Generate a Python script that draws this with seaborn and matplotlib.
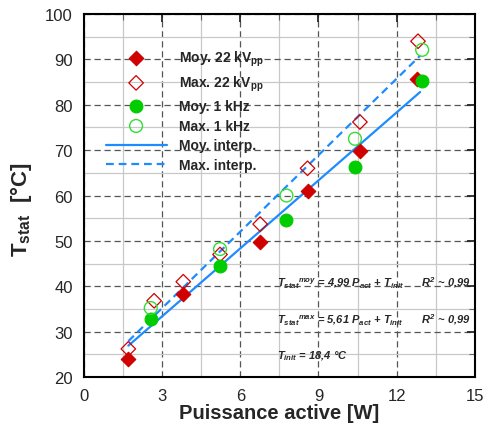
import matplotlib
matplotlib.use("Agg")
import matplotlib.pyplot as plt
import seaborn as sns
from matplotlib.ticker import MultipleLocator

# data
p_moy_22 = [1.70, 3.81, 6.76, 8.58, 10.59, 12.78]
t_moy_22 = [24.0, 38.4, 49.8, 60.9, 69.8, 85.7]
p_max_22 = [1.70, 2.69, 3.81, 5.22, 6.76, 8.58, 10.59, 12.82]
t_max_22 = [26.2, 36.8, 41.0, 47.0, 53.7, 66.0, 76.2, 94.0]
p_1k = [2.56, 5.22, 7.77, 10.40, 12.98]
t_moy_1k = [32.7, 44.4, 54.5, 66.2, 85.3]
t_max_1k = [35.2, 48.2, 60.0, 72.5, 92.1]
p_interp = [1.70, 12.90]
t_moy_interp = [26.9, 82.8]
t_max_interp = [27.9, 90.8]

red = "#d00000"
green = "#00cc00"
blue = "#1e8cff"

sns.set_style("white")
plt.rcParams["font.family"] = ["Liberation Sans", "DejaVu Sans"]
plt.rcParams["mathtext.fontset"] = "custom"
plt.rcParams["mathtext.rm"] = "Liberation Sans:bold:italic"
plt.rcParams["mathtext.it"] = "Liberation Sans:bold:italic"
plt.rcParams["mathtext.bf"] = "Liberation Sans:bold"

fig = plt.figure(figsize=(4.83, 4.35), dpi=100)
ax = fig.add_axes([0.174, 0.131, 0.809, 0.8345])

# interpolation lines
sns.lineplot(x=p_interp, y=t_moy_interp, color=blue, lw=1.6, ax=ax,
             label="Moy. interp.", zorder=2)
sns.lineplot(x=p_interp, y=t_max_interp, color=blue, lw=1.6, ax=ax,
             label="Max. interp.", zorder=2, linestyle=(0, (3.5, 2.2)))

# measurements
sns.scatterplot(x=p_moy_22, y=t_moy_22, marker="D", s=55, color=red,
                edgecolor=red, linewidth=0.8, ax=ax, label="Moy. 22 kV$_{\\mathbf{pp}}$", zorder=3)
sns.scatterplot(x=p_max_22, y=t_max_22, marker="D", s=55, color=red,
                facecolor="none", edgecolor=red, linewidth=0.9, ax=ax,
                label="Max. 22 kV$_{\\mathbf{pp}}$", zorder=3)
sns.scatterplot(x=p_1k, y=t_moy_1k, marker="o", s=85, color=green,
                edgecolor=green, linewidth=0.8, ax=ax, label="Moy. 1 kHz", zorder=4)
sns.scatterplot(x=p_1k, y=t_max_1k, marker="o", s=85, color=green,
                facecolor="none", edgecolor="#33dd33", linewidth=1.0, ax=ax,
                label="Max. 1 kHz", zorder=4)

handles, labels = ax.get_legend_handles_labels()
order = [2, 3, 4, 5, 0, 1]
leg = ax.legend([handles[i] for i in order], [labels[i] for i in order],
                loc="upper left", bbox_to_anchor=(0.055, 0.905), frameon=False,
                borderpad=0, borderaxespad=0, handlelength=4.4, handletextpad=0.9,
                labelspacing=0.42, prop={"weight": "bold", "size": 10})

ax.set_xlim(0, 15)
ax.set_ylim(20, 100)
ax.xaxis.set_major_locator(MultipleLocator(3))
ax.xaxis.set_minor_locator(MultipleLocator(1.5))
ax.yaxis.set_major_locator(MultipleLocator(10))
ax.yaxis.set_minor_locator(MultipleLocator(5))
ax.tick_params(which="both", direction="in", top=True, right=True, labelsize=12)
ax.tick_params(which="major", length=6, width=1.3, pad=8)
ax.tick_params(which="minor", length=4, width=0.8, color="#666666")

ax.grid(which="major", color="#555555", linestyle=(0, (5, 3)), linewidth=0.9)
ax.grid(which="minor", color="#c8c8c8", linestyle="-", linewidth=0.9)
ax.set_axisbelow(True)
for s in ax.spines.values():
    s.set_linewidth(1.5)
    s.set_color("black")

ax.set_xlabel("Puissance active [W]", fontsize=14.5, fontweight="bold", labelpad=0)
ax.set_ylabel("T$_{\\mathbf{stat}}$  [°C]", fontsize=16, fontweight="bold")
ax.yaxis.set_label_coords(-0.128, 0.463)

# fit annotations
kw = dict(fontsize=8, style="italic", weight="bold", va="center", ha="left")
ax.text(7.4, 41.0, "$T_{stat}{}^{moy}$ = 4,99 $P_{act}$ + $T_{init}$", **kw)
ax.text(12.95, 41.0, "$R^2$ ~ 0,99", **kw)
ax.text(7.4, 32.8, "$T_{stat}{}^{max}$ = 5,61 $P_{act}$ + $T_{init}$", **kw)
ax.text(12.95, 32.8, "$R^2$ ~ 0,99", **kw)
ax.text(7.4, 24.7, "$T_{init}$ = 18,4 °C", **kw)

fig.savefig("out.png", dpi=100)
